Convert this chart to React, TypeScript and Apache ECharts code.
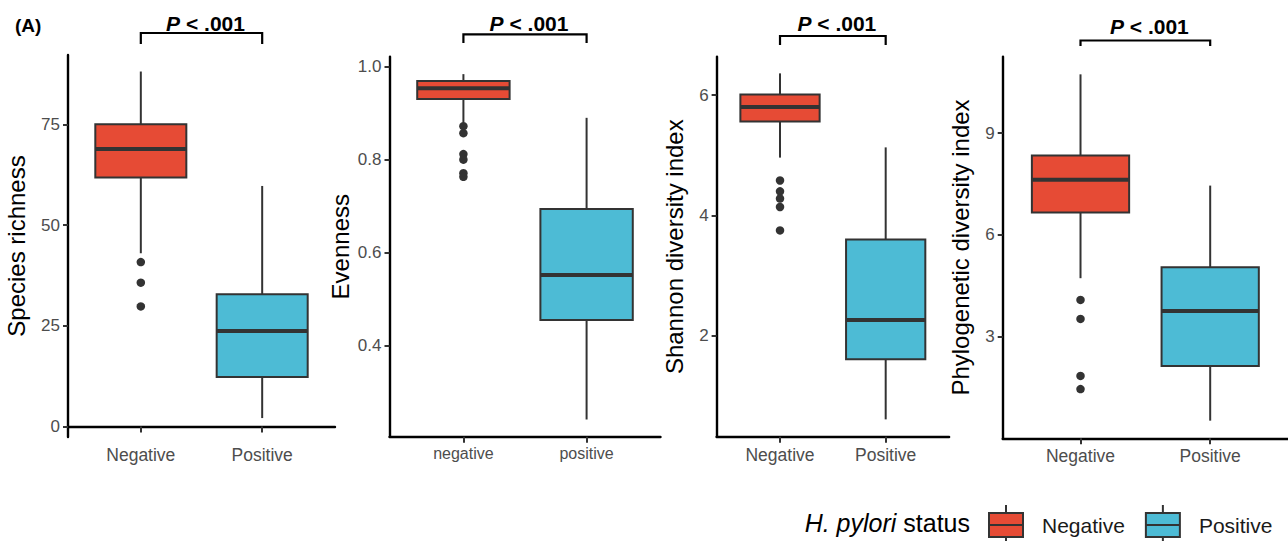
import React, { useEffect, useRef } from 'react';
import * as echarts from 'echarts';

// ---------- data ----------
const groupsUpper = ['Negative', 'Positive'];
const groupsLower = ['negative', 'positive'];
const legendTitle = 'H. pylori status';
const pLabel = 'P < .001';

// five-number summaries: [lower whisker, Q1, median, Q3, upper whisker]
const richnessNeg = [43, 61.8, 68.9, 75, 88.1];
const richnessPos = [2.1, 12.3, 23.7, 32.8, 59.7];
const richnessOut = [40.8, 35.7, 29.8];
const richnessTicks = [0, 25, 50, 75];

const evennessNeg = [0.879, 0.9305, 0.9535, 0.969, 0.984];
const evennessPos = [0.241, 0.455, 0.552, 0.694, 0.89];
const evennessOut = [0.872, 0.857, 0.812, 0.8, 0.771, 0.763];
const evennessTicks = [0.4, 0.6, 0.8, 1.0];

const shannonNeg = [4.96, 5.56, 5.8, 6.01, 6.36];
const shannonPos = [0.61, 1.61, 2.26, 3.6, 5.13];
const shannonOut = [4.58, 4.4, 4.28, 4.14, 3.75];
const shannonTicks = [2, 4, 6];

const pdNeg = [4.72, 6.66, 7.62, 8.34, 10.73];
const pdPos = [0.52, 2.13, 3.75, 5.04, 7.45];
const pdOut = [4.08, 3.52, 1.84, 1.45];
const pdTicks = [3, 6, 9];

// ---------- styling ----------
const RED = '#E64B35';
const BLUE = '#4DBBD5';
const DARK = '#333333';
const FONT = '"Liberation Sans", Arial, Helvetica, sans-serif';

const panels = [
  {
    name: 'Species richness', groups: groupsUpper, neg: richnessNeg, pos: richnessPos, out: richnessOut,
    ticks: richnessTicks, digits: 0, yMin: -2.6, yMax: 92.2,
    grid: { left: 68, top: 55, width: 267, height: 382 }, nameGap: 40, xFont: 17.5,
    bracketY: 33, tipY: 44, textY: 23,
  },
  {
    name: 'Evenness', groups: groupsLower, neg: evennessNeg, pos: evennessPos, out: evennessOut,
    ticks: evennessTicks, digits: 1, yMin: 0.204, yMax: 1.0215,
    grid: { left: 389.5, top: 56.7, width: 271, height: 380 }, nameGap: 37, xFont: 16,
    bracketY: 34.3, tipY: 43, textY: 23,
  },
  {
    name: 'Shannon diversity index', groups: groupsUpper, neg: shannonNeg, pos: shannonPos, out: shannonOut,
    ticks: shannonTicks, digits: 0, yMin: 0.322, yMax: 6.637,
    grid: { left: 716.6, top: 56.7, width: 232.5, height: 380 }, nameGap: 30, xFont: 17.5,
    bracketY: 36, tipY: 45, textY: 23.5,
  },
  {
    name: 'Phylogenetic diversity index', groups: groupsUpper, neg: pdNeg, pos: pdPos, out: pdOut,
    ticks: pdTicks, digits: 0, yMin: 0, yMax: 11.25,
    grid: { left: 1002.7, top: 56.7, width: 289.6, height: 381.6 }, nameGap: 30, xFont: 17.5,
    bracketY: 40.5, tipY: 46, textY: 26.5,
  },
];

function renderBox(params: any, api: any) {
  const x = api.value(0);
  const lo = api.value(1), q1 = api.value(2), med = api.value(3), q3 = api.value(4), hi = api.value(5);
  const [cx, yLo] = api.coord([x, lo]);
  const yQ1 = api.coord([x, q1])[1];
  const yMed = api.coord([x, med])[1];
  const yQ3 = api.coord([x, q3])[1];
  const yHi = api.coord([x, hi])[1];
  const w = api.size([0.75, 0])[0];
  const color = api.visual('color');
  const ln = { stroke: DARK, lineWidth: 2 };
  return {
    type: 'group',
    children: [
      { type: 'line', shape: { x1: cx, y1: yHi, x2: cx, y2: yQ3 }, style: ln },
      { type: 'line', shape: { x1: cx, y1: yQ1, x2: cx, y2: yLo }, style: ln },
      { type: 'rect', shape: { x: cx - w / 2, y: yQ3, width: w, height: yQ1 - yQ3 }, style: { fill: color, stroke: DARK, lineWidth: 2 } },
      { type: 'line', shape: { x1: cx - w / 2, y1: yMed, x2: cx + w / 2, y2: yMed }, style: { stroke: DARK, lineWidth: 4 } },
    ],
  };
}

function makeBracketRenderer(p: any) {
  return (params: any, api: any) => {
    const x1 = api.coord([api.value(0), p.yMin])[0];
    const x2 = api.coord([api.value(1), p.yMin])[0];
    const mid = (x1 + x2) / 2 + 4;
    return {
      type: 'group',
      children: [
        {
          type: 'polyline',
          shape: { points: [[x1, p.tipY], [x1, p.bracketY], [x2, p.bracketY], [x2, p.tipY]] },
          style: { stroke: '#000', lineWidth: 2.2, fill: null },
        },
        {
          type: 'text',
          x: mid,
          y: p.textY,
          style: {
            text: '{i|P}{b| < .001}',
            align: 'center',
            verticalAlign: 'middle',
            rich: {
              i: { fontFamily: FONT, fontSize: 21, fontWeight: 'bold', fontStyle: 'italic', fill: '#000' },
              b: { fontFamily: FONT, fontSize: 21, fontWeight: 'bold', fill: '#000' },
            },
          },
        },
      ],
    };
  };
}

export default function App() {
  const ref = useRef<HTMLDivElement>(null);

  useEffect(() => {
    document.body.style.margin = '0';
    if (!ref.current) return;
    const chart = echarts.init(ref.current, null, { renderer: 'svg' });

    const grids: any[] = [];
    const xAxes: any[] = [];
    const yAxes: any[] = [];
    const series: any[] = [];

    panels.forEach((p, i) => {
      grids.push({ ...p.grid, containLabel: false });
      xAxes.push({
        type: 'value', gridIndex: i, min: 0.4, max: 2.6,
        axisLine: { show: true, lineStyle: { color: '#000', width: 2.4 } },
        axisTick: { show: true, customValues: [1, 2], length: 6, lineStyle: { color: DARK, width: 2 } },
        axisLabel: {
          show: true, customValues: [1, 2], margin: 9,
          formatter: (v: number) => p.groups[Math.round(v) - 1] || '',
          color: '#4D4D4D', fontSize: p.xFont, fontFamily: FONT,
        },
        splitLine: { show: false },
      });
      yAxes.push({
        type: 'value', gridIndex: i, min: p.yMin, max: p.yMax,
        name: p.name, nameLocation: 'middle', nameRotate: 90, nameGap: p.nameGap,
        nameTextStyle: { color: '#000', fontSize: 24, fontFamily: FONT },
        axisLine: { show: true, lineStyle: { color: '#000', width: 2.4 } },
        axisTick: { show: true, customValues: p.ticks, length: 5, lineStyle: { color: DARK, width: 2 } },
        axisLabel: {
          show: true, customValues: p.ticks, margin: 8,
          formatter: (v: number) => v.toFixed(p.digits),
          color: '#4D4D4D', fontSize: 17, fontFamily: FONT,
        },
        splitLine: { show: false },
      });
      series.push({
        type: 'custom', name: 'Negative', xAxisIndex: i, yAxisIndex: i,
        itemStyle: { color: RED }, renderItem: renderBox, encode: { x: 0, y: [1, 2, 3, 4, 5] },
        data: [[1, ...p.neg]], clip: false, silent: true,
      });
      series.push({
        type: 'custom', name: 'Positive', xAxisIndex: i, yAxisIndex: i,
        itemStyle: { color: BLUE }, renderItem: renderBox, encode: { x: 0, y: [1, 2, 3, 4, 5] },
        data: [[2, ...p.pos]], clip: false, silent: true,
      });
      series.push({
        type: 'scatter', name: 'outliers' + i, xAxisIndex: i, yAxisIndex: i,
        symbol: 'circle', symbolSize: 8.5, itemStyle: { color: DARK, opacity: 1 }, silent: true,
        data: p.out.map((v) => [1, v]),
      });
      series.push({
        type: 'custom', name: 'pvalue' + i, xAxisIndex: i, yAxisIndex: i,
        renderItem: makeBracketRenderer(p), encode: { x: [0, 1] },
        data: [[1, 2]], clip: false, silent: true,
      });
    });

    const keyIcon = 'path://M0,8L34,8L34,32L0,32Z M0,20L34,20 M17,0L17,8 M17,32L17,40';

    chart.setOption({
      animation: false,
      backgroundColor: '#ffffff',
      grid: grids,
      xAxis: xAxes,
      yAxis: yAxes,
      series,
      legend: {
        left: 988, top: 504, orient: 'horizontal', padding: 0,
        itemWidth: 34, itemHeight: 40, itemGap: 20, selectedMode: false,
        textStyle: { fontSize: 21, fontFamily: FONT, color: '#1A1A1A', padding: [0, 0, 0, 14] },
        data: [
          { name: 'Negative', icon: keyIcon, itemStyle: { color: RED, borderColor: DARK, borderWidth: 2 } },
          { name: 'Positive', icon: keyIcon, itemStyle: { color: BLUE, borderColor: DARK, borderWidth: 2 } },
        ],
      },
      graphic: [
        {
          type: 'text', left: 15, top: 16,
          style: { text: '(A)', fontFamily: FONT, fontSize: 19, fontWeight: 'bold', fill: '#000' },
        },
        {
          type: 'text', x: 970, y: 523,
          style: {
            text: '{i|H. pylori} status', align: 'right', verticalAlign: 'middle',
            rich: {
              i: { fontFamily: FONT, fontSize: 25, fontStyle: 'italic', fill: '#000' },
            },
            fontFamily: FONT, fontSize: 25, fill: '#000',
          },
        },
      ],
    });

    return () => chart.dispose();
  }, []);

  return <div ref={ref} style={{ width: 1288, height: 541 }} />;
}
